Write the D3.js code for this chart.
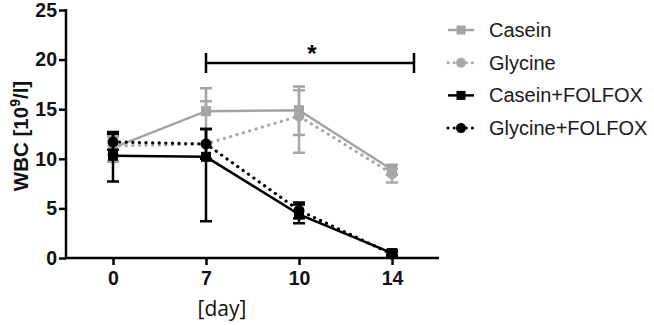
<!DOCTYPE html>
<html>
<head>
<meta charset="utf-8">
<script src="https://d3js.org/d3.v7.min.js"></script>
<style>
  body { margin: 0; background: #fff; }
  text { font-family: "Liberation Sans", Arial, sans-serif; }
</style>
</head>
<body>
<div id="chart"></div>
<script>
// data
var days = ["0", "7", "10", "14"];
var yTicks = [0, 5, 10, 15, 20, 25];

var caseinMean = [11.1, 14.8, 14.9, 8.9];
var caseinHi   = [12.5, 17.1, 17.3, 9.4];
var caseinLo   = [9.7, 14.8, 12.4, 8.4];

var glycineMean = [11.3, 11.5, 14.3, 8.5];
var glycineHi   = [12.2, 15.8, 16.9, 9.0];
var glycineLo   = [10.4, 11.5, 10.6, 7.6];

var caseinFolfoxMean = [10.3, 10.2, 4.4, 0.5];
var caseinFolfoxHi   = [12.7, 13.0, 5.4, 0.8];
var caseinFolfoxLo   = [7.7, 3.7, 3.5, 0.3];

var glycineFolfoxMean = [11.7, 11.5, 4.8, 0.4];
var glycineFolfoxHi   = [12.5, 13.0, 5.6, 0.6];
var glycineFolfoxLo   = [10.9, 10.0, 4.0, 0.2];

var series = [
  {name: "Casein", mean: caseinMean, hi: caseinHi, lo: caseinLo, color: "#a3a3a3", dotted: false, shape: "square"},
  {name: "Glycine", mean: glycineMean, hi: glycineHi, lo: glycineLo, color: "#a8a8a8", dotted: true, shape: "circle"},
  {name: "Casein+FOLFOX", mean: caseinFolfoxMean, hi: caseinFolfoxHi, lo: caseinFolfoxLo, color: "#000", dotted: false, shape: "square"},
  {name: "Glycine+FOLFOX", mean: glycineFolfoxMean, hi: glycineFolfoxHi, lo: glycineFolfoxLo, color: "#000", dotted: true, shape: "circle"}
];

var width = 654, height = 325;
var svg = d3.select("#chart").append("svg")
  .attr("width", width).attr("height", height);

var x = d3.scalePoint().domain(days).range([113, 392]);
var y = d3.scaleLinear().domain([0, 25]).range([258, 10]);

// axes
var yAxis = svg.append("g")
  .attr("transform", "translate(66,0)")
  .call(d3.axisLeft(y).tickValues(yTicks).tickSize(7).tickPadding(2));
yAxis.select(".domain").remove();
yAxis.append("line").attr("x1", 0).attr("x2", 0).attr("y1", y(25) - 1).attr("y2", y(0) + 1)
  .attr("stroke", "#000").attr("stroke-width", 2.5);

var xAxis = svg.append("g")
  .attr("transform", "translate(0,258)")
  .call(d3.axisBottom(x).tickSize(7).tickPadding(6));
xAxis.select(".domain").remove();
xAxis.append("line").attr("x1", 65).attr("x2", 439).attr("y1", 0).attr("y2", 0)
  .attr("stroke", "#000").attr("stroke-width", 2.5);

svg.selectAll(".tick line").attr("stroke", "#000").attr("stroke-width", 2.5);
svg.selectAll(".tick text")
  .attr("fill", "#111")
  .style("font-size", "19.5px")
  .style("font-weight", "bold")
  .style("font-family", "'Liberation Sans', Arial, sans-serif");

// axis titles
var yTitle = svg.append("text")
  .attr("transform", "translate(28,136) rotate(-90)")
  .attr("text-anchor", "middle")
  .style("font-size", "20.5px").style("font-weight", "bold").attr("fill", "#111");
yTitle.append("tspan").text("WBC [10");
yTitle.append("tspan").attr("dy", -8).style("font-size", "14px").text("9");
yTitle.append("tspan").attr("dy", 8).text("/l]");

svg.append("text")
  .attr("x", 222).attr("y", 316)
  .attr("text-anchor", "middle")
  .style("font-family", "'Open Sans', 'DejaVu Sans', sans-serif")
  .style("font-size", "21px").attr("fill", "#111")
  .text("[day]");

// significance bracket
var bx1 = x("7"), bx2 = 414, by = 63;
svg.append("path")
  .attr("d", "M" + bx1 + "," + (by - 10) + "V" + (by + 10) + "M" + bx1 + "," + by + "H" + bx2 +
    "M" + bx2 + "," + (by - 10) + "V" + (by + 10))
  .attr("fill", "none").attr("stroke", "#000").attr("stroke-width", 2.5);
svg.append("text")
  .attr("x", (bx1 + bx2) / 2 + 2).attr("y", 62)
  .attr("text-anchor", "middle")
  .style("font-size", "24px").style("font-weight", "bold")
  .text("*");

// series
var line = d3.line()
  .x(function(d, i) { return x(days[i]); })
  .y(function(d) { return y(d); });

function drawMarker(g, shape, cx, cy, color, size) {
  if (shape === "square") {
    g.append("rect").attr("x", cx - size / 2).attr("y", cy - size / 2)
      .attr("width", size).attr("height", size).attr("fill", color);
  } else {
    g.append("circle").attr("cx", cx).attr("cy", cy).attr("r", size / 2 + 0.5).attr("fill", color);
  }
}

series.forEach(function(s) {
  var g = svg.append("g");
  g.append("path")
    .datum(s.mean)
    .attr("d", line)
    .attr("fill", "none")
    .attr("stroke", s.color)
    .attr("stroke-width", s.dotted ? 3.2 : 2.5)
    .attr("stroke-linecap", s.dotted ? "round" : "butt")
    .attr("stroke-dasharray", s.dotted ? "0.1,6.5" : null);

  s.mean.forEach(function(m, i) {
    var cx = x(days[i]);
    var path = "M" + cx + "," + y(s.hi[i]) + "V" + y(s.lo[i]);
    if (s.hi[i] > m) path += "M" + (cx - 6) + "," + y(s.hi[i]) + "H" + (cx + 6);
    if (s.lo[i] < m) path += "M" + (cx - 6) + "," + y(s.lo[i]) + "H" + (cx + 6);
    g.append("path").attr("d", path)
      .attr("fill", "none").attr("stroke", s.color).attr("stroke-width", 2.5);
    drawMarker(g, s.shape, cx, y(m), s.color, 10);
  });
});

// legend
var legend = svg.append("g").attr("transform", "translate(448,30)");
series.forEach(function(s, i) {
  var row = legend.append("g").attr("transform", "translate(0," + (i * 32.7) + ")");
  row.append("line").attr("x1", 0).attr("x2", 26).attr("y1", 0).attr("y2", 0)
    .attr("stroke", s.color).attr("stroke-width", s.dotted ? 3 : 2.5)
    .attr("stroke-linecap", s.dotted ? "round" : "butt")
    .attr("stroke-dasharray", s.dotted ? "0.1,6" : null);
  drawMarker(row, s.shape, 13, 0, s.color, 9);
  row.append("text").attr("x", 41).attr("y", 0).attr("dy", "0.35em")
    .style("font-size", "20px").attr("fill", "#1a1a1a")
    .text(s.name);
});
</script>
</body>
</html>
